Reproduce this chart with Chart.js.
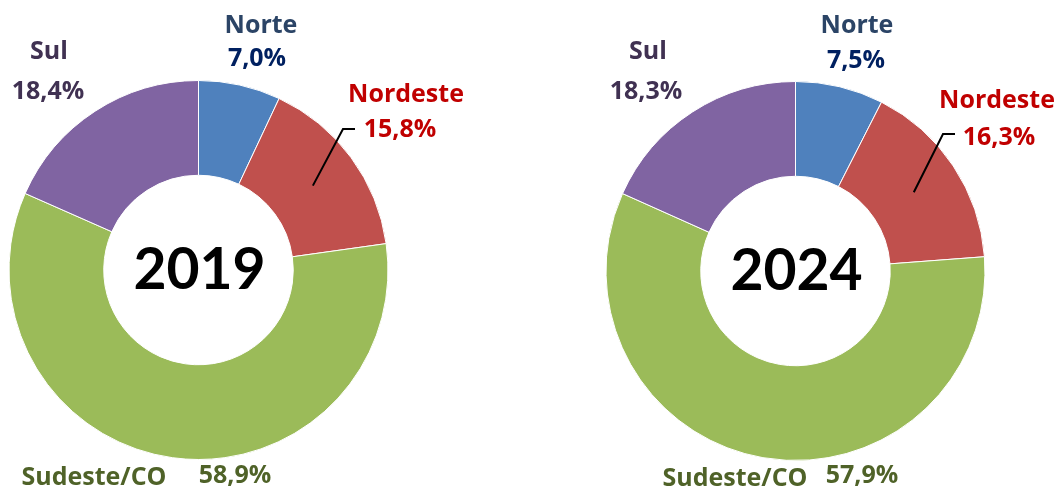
<!DOCTYPE html>
<html>
<head>
<meta charset="utf-8">
<script src="https://cdn.jsdelivr.net/npm/chart.js@4"></script>
<style>
  html, body { margin: 0; padding: 0; background: #fff; }
  #wrap { position: relative; width: 1056px; height: 491px; overflow: hidden; }
  .box { position: absolute; top: 0; width: 528px; height: 491px; }
</style>
</head>
<body>
<div id="wrap">
  <div class="box" style="left:0"><canvas id="c2019"></canvas></div>
  <div class="box" style="left:528px"><canvas id="c2024"></canvas></div>
</div>
<script>
const regions = ["Norte", "Nordeste", "Sudeste/CO", "Sul"];
const years = ["2019", "2024"];
const values2019 = [7.0, 15.8, 58.9, 18.4];
const values2024 = [7.5, 16.3, 57.9, 18.3];

const sliceColors = ["#4F81BD", "#C0504D", "#9BBB59", "#8064A2"];
const nameColors = ["#2B4466", "#C00000", "#4F6228", "#403152"];
const valueColors = ["#002060", "#C00000", "#4F6228", "#403152"];
const LABEL_FONT = "'Open Sans', Lato, sans-serif";
const YEAR_FONT = "Lato, 'Open Sans', sans-serif";

function fmt(v) {
  return v.toFixed(1).replace(".", ",") + "%";
}

// label spots, relative to the doughnut centre: [name dx, name dy, value dx, value dy]
const spots2019 = [
  [62.5, -237, 58.5, -204],
  [207.5, -168, 201.5, -133],
  [-104.5, 215, 36.5, 213],
  [-149.5, -211, -150.5, -171]
];
const spots2024 = [
  [61.5, -238, 60.5, -203],
  [201.5, -163, 203.5, -126],
  [-60.5, 215, 66.5, 212],
  [-147.5, -212, -149.5, -172]
];
// leader for Nordeste: elbow and end, relative to centre
const leader2019 = [[144.5, -141], [156.5, -141]];
const leader2024 = [[147.5, -137], [159.5, -137]];

const labelPlugin = {
  id: "regionLabels",
  afterDraw(chart, args, opts) {
    const ctx = chart.ctx;
    const a = chart.chartArea;
    const cx = (a.left + a.right) / 2;
    const cy = (a.top + a.bottom) / 2;
    const vals = chart.data.datasets[0].data;
    ctx.save();

    // centre year
    ctx.fillStyle = "#000";
    ctx.font = "bold 57px " + YEAR_FONT;
    ctx.textAlign = "center";
    ctx.textBaseline = "middle";
    ctx.fillText(opts.year, cx + 1, cy + 1);

    // leader line from the Nordeste slice
    const arc = chart.getDatasetMeta(0).data[1];
    const p = arc.tooltipPosition();
    ctx.strokeStyle = "#000";
    ctx.lineWidth = 2;
    ctx.beginPath();
    ctx.moveTo(p.x, p.y);
    ctx.lineTo(cx + opts.leader[0][0], cy + opts.leader[0][1]);
    ctx.lineTo(cx + opts.leader[1][0], cy + opts.leader[1][1]);
    ctx.stroke();

    ctx.textBaseline = "alphabetic";
    ctx.font = "bold 25px " + LABEL_FONT;
    regions.forEach((name, i) => {
      const s = opts.spots[i];
      ctx.fillStyle = nameColors[i];
      ctx.fillText(name, cx + s[0], cy + s[1]);
      ctx.fillStyle = valueColors[i];
      ctx.fillText(fmt(vals[i]), cx + s[2], cy + s[3]);
    });
    ctx.restore();
  }
};

function makeChart(id, values, year, padding, spots, leader) {
  new Chart(document.getElementById(id), {
    type: "doughnut",
    data: {
      labels: regions,
      datasets: [{
        data: values,
        backgroundColor: sliceColors,
        borderColor: "#fff",
        borderWidth: 1
      }]
    },
    options: {
      responsive: true,
      maintainAspectRatio: false,
      animation: false,
      cutout: "50%",
      layout: { padding },
      plugins: {
        legend: { display: false },
        tooltip: { enabled: false },
        regionLabels: { year, spots, leader }
      }
    },
    plugins: [labelPlugin]
  });
}

makeChart("c2019", values2019, years[0], { left: 8, right: 139, top: 80, bottom: 31 }, spots2019, leader2019);
makeChart("c2024", values2024, years[1], { left: 77, right: 70, top: 81, bottom: 30 }, spots2024, leader2024);
</script>
</body>
</html>
